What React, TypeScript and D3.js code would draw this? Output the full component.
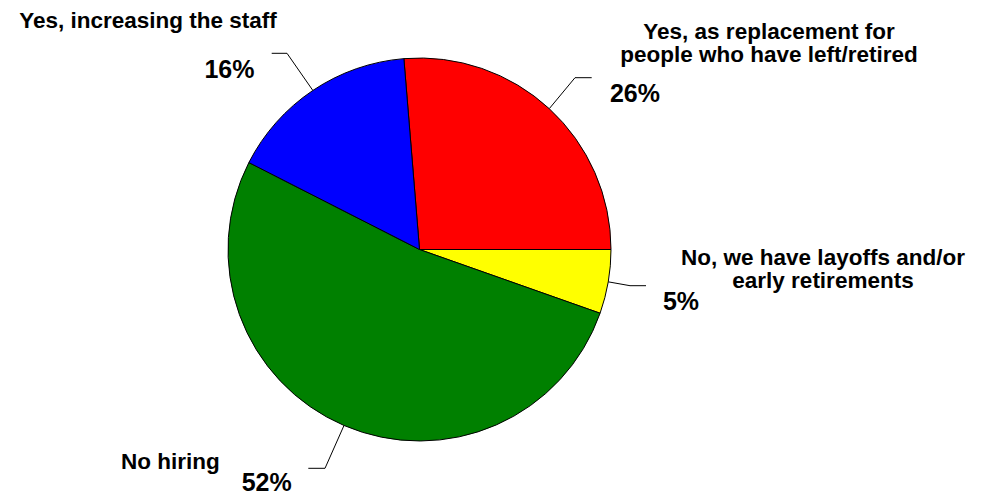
import React from "react";
import * as d3 from "d3";

const categories = [
  "Yes, as replacement for\npeople who have left/retired",
  "No, we have layoffs and/or\nearly retirements",
  "No hiring",
  "Yes, increasing the staff",
];
const values = [26.3, 5.4, 52.1, 16.2];
const pctLabels = ["26%", "5%", "52%", "16%"];
const colors = ["#FF0000", "#FFFF00", "#008000", "#0000FF"];

// layout (positions only)
const W = 981;
const H = 498;
const CX = 419.5;
const CY = 249.5;
const R = 191.5;
const labelLayout = [
  { elbow: [575, 77.7], end: [591.7, 77.7], text: [769, 39], pct: [635, 101.7] },
  { elbow: [630, 285.7], end: [646, 285.7], text: [823, 265], pct: [681, 310] },
  { elbow: [325, 468.3], end: [308.3, 468.3], text: [170.3, 469], pct: [266.7, 491] },
  { elbow: [287, 53.3], end: [271.7, 53.3], text: [148, 27.7], pct: [229.5, 78.3] },
];

export default function App() {
  const total = d3.sum(values);
  const start = Math.PI / 2 - (2 * Math.PI * values[0]) / total;
  const pie = d3
    .pie<number>()
    .sort(null)
    .value((d) => d)
    .startAngle(start)
    .endAngle(start + 2 * Math.PI);
  const arcs = pie(values);
  const arc = d3.arc<d3.PieArcDatum<number>>().innerRadius(0).outerRadius(R);
  const font = "'Liberation Sans', Arial, Helvetica, sans-serif";

  return (
    <svg
      width={W}
      height={H}
      style={{ position: "absolute", left: 0, top: 0, background: "#fff" }}
      fontFamily={font}
      fontWeight="bold"
    >
      <g transform={`translate(${CX},${CY})`}>
        {arcs.map((a, i) => (
          <path key={i} d={arc(a) || ""} fill={colors[i]} stroke="#000" strokeWidth={1} />
        ))}
      </g>
      {arcs.map((a, i) => {
        const mid = (a.startAngle + a.endAngle) / 2;
        const sx = CX + R * Math.sin(mid);
        const sy = CY - R * Math.cos(mid);
        const L = labelLayout[i];
        const lines = categories[i].split("\n");
        return (
          <g key={i}>
            <polyline
              points={`${sx},${sy} ${L.elbow[0]},${L.elbow[1]} ${L.end[0]},${L.end[1]}`}
              fill="none"
              stroke="#000"
              strokeWidth={1}
            />
            <text
              x={L.text[0]}
              y={L.text[1]}
              textAnchor="middle"
              fontSize={22.5}
              fill="#000"
            >
              {lines.map((ln, j) => (
                <tspan key={j} x={L.text[0]} dy={j === 0 ? 0 : 22.8}>
                  {ln}
                </tspan>
              ))}
            </text>
            <text
              x={L.pct[0]}
              y={L.pct[1]}
              textAnchor="middle"
              fontSize={25}
              fill="#000"
            >
              {pctLabels[i]}
            </text>
          </g>
        );
      })}
    </svg>
  );
}
